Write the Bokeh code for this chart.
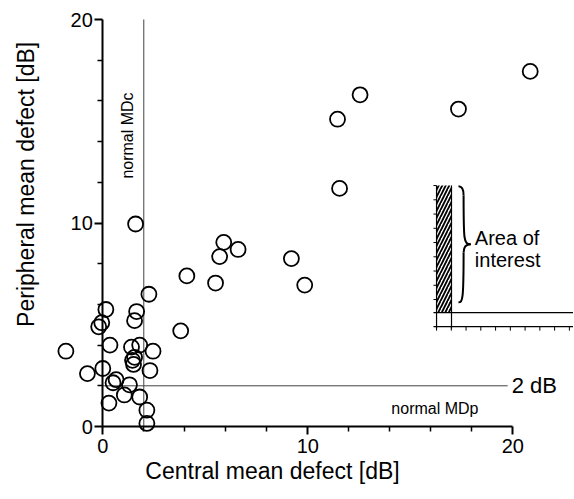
import numpy as np
from bokeh.plotting import figure
from bokeh.models import FixedTicker, Range1d, LinearAxis, Label
from bokeh.embed import file_html
from bokeh.resources import INLINE

# ---- data ----
central_md = [20.85, 17.35, 12.55, 11.45, 11.55, 1.6, 5.9, 5.7, 6.6, 9.2, 9.85,
              4.1, 5.5, 2.25, 3.8, 0.15, 1.65, 1.55, -0.05, -0.2, 0.35, -1.8,
              1.4, 1.8, 2.45, 1.45, 1.5, 1.55, 0.0, 2.3, -0.75, 0.65, 0.5, 1.3,
              1.05, 1.8, 0.3, 2.15, 2.15]
peripheral_md = [17.45, 15.6, 16.3, 15.1, 11.7, 9.95, 9.05, 8.35, 8.7, 8.25, 6.95,
                 7.4, 7.05, 6.5, 4.7, 5.75, 5.65, 5.2, 5.1, 4.9, 4.0, 3.7,
                 3.9, 4.0, 3.7, 3.25, 3.05, 3.4, 2.85, 2.75, 2.6, 2.3, 2.15, 2.05,
                 1.55, 1.45, 1.15, 0.8, 0.15]

major_ticks = [0, 10, 20]
minor_ticks = [2, 4, 6, 8, 12, 14, 16, 18]
normal_mdc = 2.0   # central limit
normal_mdp = 2.0   # peripheral limit
x_title = "Central mean defect [dB]"
y_title = "Peripheral mean defect [dB]"

FONT = "Liberation Sans"

W, H = 573, 498
p = figure(width=W, height=H, output_backend="svg", toolbar_location=None,
           x_range=Range1d(-4.990, 22.961), y_range=Range1d(-3.538, 20.934),
           x_axis_location=None, y_axis_location=None,
           min_border_left=0, min_border_right=0, min_border_top=0, min_border_bottom=0)
p.frame_width = W
p.frame_height = H
p.outline_line_color = None
p.background_fill_color = "white"
p.grid.visible = False

def style_axis(ax):
    ax.ticker = FixedTicker(ticks=major_ticks, minor_ticks=minor_ticks)
    ax.bounds = (0, 20)
    ax.axis_line_width = 2
    ax.axis_line_color = "black"
    ax.major_tick_line_width = 2
    ax.minor_tick_line_width = 1.5
    ax.major_tick_in = 0
    ax.minor_tick_in = 0
    ax.major_tick_out = 8
    ax.minor_tick_out = 5
    ax.major_label_text_font = FONT
    ax.major_label_text_font_size = "20px"
    ax.major_label_text_color = "black"

xaxis = LinearAxis(fixed_location=0)
style_axis(xaxis)
xaxis.major_label_standoff = 4
p.add_layout(xaxis, "below")

yaxis = LinearAxis(fixed_location=0)
style_axis(yaxis)
yaxis.major_label_standoff = 2
p.add_layout(yaxis, "left")

def label(**kw):
    kw.setdefault("text_font", FONT)
    kw.setdefault("text_color", "black")
    kw.setdefault("text_baseline", "middle")
    p.add_layout(Label(**kw))

# axis titles
label(x=8.28, y=-2.2, text=x_title, text_align="center", text_font_size="23px")
label(x=-3.75, y=11.9, text=y_title, angle=np.pi / 2, text_align="center", text_font_size="23px")

# reference lines
p.segment(x0=[normal_mdc], y0=[0], x1=[normal_mdc], y1=[20], line_color="#444444", line_width=1)
p.segment(x0=[0], y0=[normal_mdp], x1=[19.75], y1=[normal_mdp], line_color="#444444", line_width=1)

# scatter
p.scatter(central_md, peripheral_md, marker="circle", size=15, fill_alpha=0,
          line_color="black", line_width=1.8)

# labels
label(x=1.2, y=14.3, text="normal MDc", angle=np.pi / 2, text_align="center", text_font_size="16px")
label(x=16.2, y=0.9, text="normal MDp", text_align="center", text_font_size="16px")
label(x=19.95, y=normal_mdp, text="2 dB", text_align="left", text_font_size="22px")

# ---- inset schematic ("Area of interest") ----
ins_x0, ins_xc, ins_x1 = 16.28, 17.01, 22.96
ins_y0, ins_yc, ins_y1 = 4.91, 5.60, 11.84
p.quad(left=ins_x0, right=ins_xc, bottom=ins_yc, top=ins_y1, fill_color=None,
       line_color=None, hatch_pattern="/", hatch_color="black", hatch_scale=7, hatch_weight=1.8)
p.segment(x0=[ins_x0, ins_xc, 16.13, 16.13], y0=[ins_y0 - 0.1, ins_y0 - 0.1, ins_yc, ins_y0],
          x1=[ins_x0, ins_xc, ins_x1, ins_x1], y1=[ins_y1, ins_y1, ins_yc, ins_y0],
          line_color="black", line_width=1.2)
tx = np.arange(ins_x0, ins_x1, 0.72)
p.segment(x0=tx, y0=ins_y0, x1=tx, y1=ins_y0 - 0.2, line_color="black", line_width=1)
ty = np.arange(ins_y1, ins_yc, -0.7)
p.segment(x0=ins_x0, y0=ty, x1=ins_x0 - 0.15, y1=ty, line_color="black", line_width=1)

# curly brace
bx, bt, bb = 17.35, 11.8, 6.1
bm = (bt + bb) / 2
w = 0.25
tip = 0.6
p.bezier(x0=[bx, bx + w, bx + tip, bx + w], y0=[bt, bt - 0.45, bm, bm - 0.4],
         x1=[bx + w, bx + tip, bx + w, bx], y1=[bt - 0.45, bm, bm - 0.4, bb],
         cx0=[bx + 0.2, bx + w, bx + 0.4, bx + w], cy0=[bt, bm + 0.2, bm, bb + 0.1],
         cx1=[bx + w, bx + w, bx + w, bx + 0.2], cy1=[bt - 0.2, bm, bm - 0.1, bb],
         line_color="black", line_width=2)

label(x=18.15, y=9.25, text="Area of", text_align="left", text_font_size="20px")
label(x=18.15, y=8.2, text="interest", text_align="left", text_font_size="20px")

open("out.html", "w").write(file_html(p, INLINE))
